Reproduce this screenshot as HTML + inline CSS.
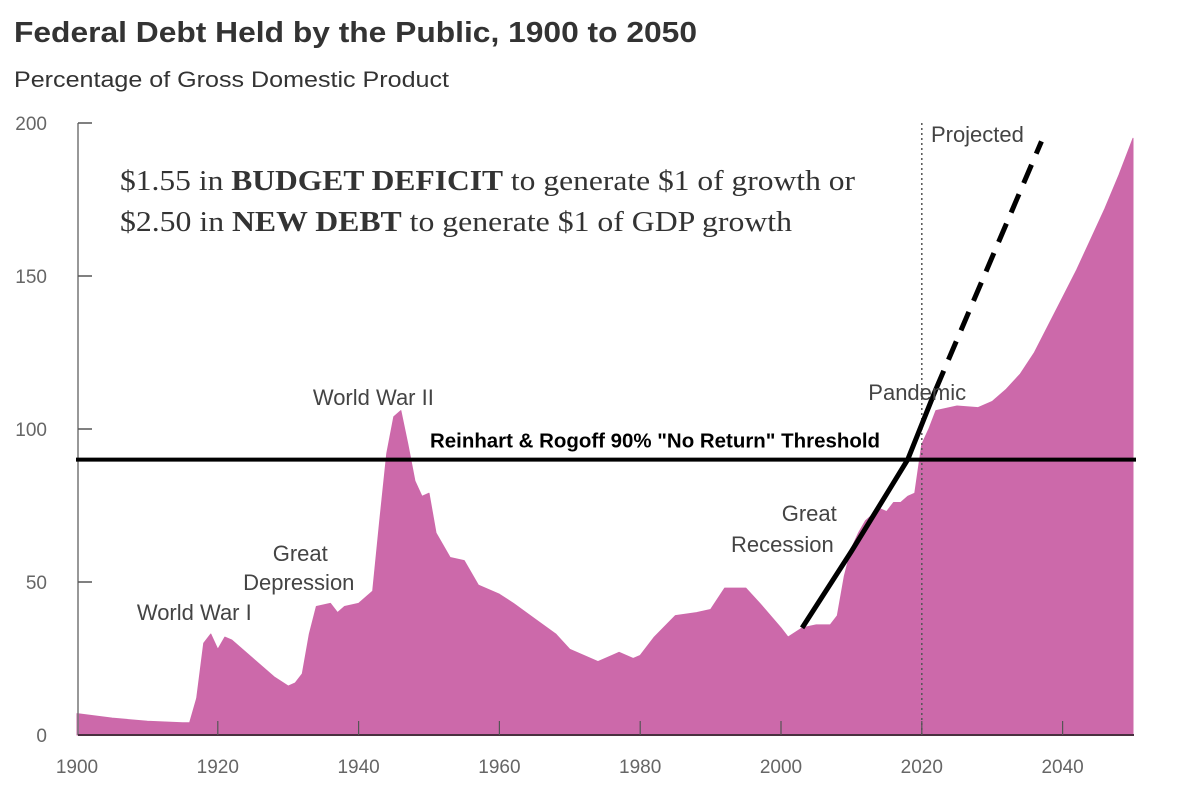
<!DOCTYPE html>
<html><head><meta charset="utf-8"><style>
body{margin:0;background:#fff;}
svg{display:block;font-family:"Liberation Sans",sans-serif;}
</style></head><body>
<svg id="chart" width="1186" height="789" viewBox="0 0 1186 789">
<text x="14" y="42" font-size="29" font-weight="bold" fill="#333" textLength="683" lengthAdjust="spacingAndGlyphs">Federal Debt Held by the Public, 1900 to 2050</text>
<text x="14" y="87" font-size="22" fill="#333" textLength="435" lengthAdjust="spacingAndGlyphs">Percentage of Gross Domestic Product</text>
<g id="area"></g>
<g id="yaxis"></g>
<g id="xaxis"></g>
<g id="ann"></g>
<text x="120" y="190" font-family="Liberation Serif,serif" font-size="28" fill="#333" textLength="735" lengthAdjust="spacingAndGlyphs">$1.55 in <tspan font-weight="bold">BUDGET DEFICIT</tspan> to generate $1 of growth or</text>
<text x="120" y="231" font-family="Liberation Serif,serif" font-size="28" fill="#333" textLength="672" lengthAdjust="spacingAndGlyphs">$2.50 in <tspan font-weight="bold">NEW DEBT</tspan> to generate $1 of GDP growth</text>
</svg>
<script>
const years=[1900,1905,1910,1915,1916,1917,1918,1919,1920,1921,1922,1925,1928,1930,1931,1932,1933,1934,1936,1937,1938,1940,1941,1942,1943,1944,1945,1946,1947,1948,1949,1950,1951,1953,1955,1957,1960,1962,1965,1968,1970,1974,1976,1977,1979,1980,1982,1985,1988,1990,1992,1995,1997,2000,2001,2003,2005,2007,2008,2009,2010,2011,2012,2013,2014,2015,2016,2017,2018,2019,2020,2021,2022,2025,2028,2030,2032,2034,2036,2038,2040,2042,2044,2046,2048,2050];
const debt=[7,5.5,4.5,4,4,12,30,33,28,32,31,25,19,16,17,20,33,42,43,40,42,43,45,47,70,92,104,106,95,83,78,79,66,58,57,49,46,43,38,33,28,24,26,27,25,26,32,39,40,41,48,48,43,35,32,35,36,36,39,52,61,66,70,72,74,73,76,76,78,79,95,100,106,107.5,107,109,113,118,125,134,143,152,162,172,183,195];
const yTicks=[0,50,100,150,200];
const xTicks=[1900,1920,1940,1960,1980,2000,2020,2040];
const threshold=[90];
const trendYears=[2003,2010,2018,2022];
const trendVals=[35,60,90,113];
const projYears=[2022,2037];
const projVals=[113,194];
const labels=[["World War I",1908.5,37.6],["Great",1927.8,56.9],["Depression",1923.6,47.4],["World War II",1933.5,107.8],["Great",2000.1,70],["Recession",1992.9,59.8],["Pandemic",2012.4,109.5],["Projected",2021.3,193.8]];
const X=y=>77+(y-1900)*7.04, Y=v=>735-v*3.06;
const NS="http://www.w3.org/2000/svg";
function mk(t,p,a){const e=document.createElementNS(NS,t);for(const k in a)e.setAttribute(k,a[k]);p.appendChild(e);return e;}
const area=document.getElementById('area');
let d=`M${X(years[0])},${Y(0)}`;years.forEach((y,i)=>d+=`L${X(y)},${Y(debt[i])}`);d+=`L${X(2050)},${Y(0)}Z`;
const ap=mk('path',area,{d:d,fill:'#cc69aa','stroke':'#cc69aa','stroke-width':1,'stroke-linejoin':'round'});


const ya=document.getElementById('yaxis');
mk('line',ya,{x1:78,y1:Y(200),x2:78,y2:Y(0),stroke:'#777','stroke-width':1.5});
yTicks.forEach(v=>{mk('line',ya,{x1:78,y1:Y(v),x2:92,y2:Y(v),stroke:'#555','stroke-width':1.5});
const t=mk('text',ya,{x:47,y:Y(v)+7,'text-anchor':'end','font-size':19,fill:'#666'});t.textContent=v;

});
const xa=document.getElementById('xaxis');
mk('line',xa,{x1:78,y1:Y(0),x2:1134,y2:Y(0),stroke:'#4a3040','stroke-width':2});
xTicks.forEach(y=>{if(y>1900)mk('line',xa,{x1:X(y),y1:Y(0),x2:X(y),y2:Y(0)-14,stroke:'#555','stroke-width':1.2});
const t=mk('text',xa,{x:X(y),y:773,'text-anchor':'middle','font-size':19,fill:'#666'});t.textContent=y;

});
const an=document.getElementById('ann');
mk('line',an,{x1:X(2020),y1:Y(200),x2:X(2020),y2:Y(0),stroke:'#555','stroke-width':1.5,'stroke-dasharray':'2,3'});
const th=mk('line',an,{x1:76,y1:Y(threshold[0]),x2:1136,y2:Y(threshold[0]),stroke:'#000','stroke-width':4});


const tt=mk('text',an,{x:430,y:Y(threshold[0])-12,'font-size':20,'font-weight':'bold',fill:'#000',textLength:450,lengthAdjust:'spacingAndGlyphs'});
tt.textContent='Reinhart & Rogoff 90% "No Return" Threshold';


let td='';trendYears.forEach((y,i)=>td+=(i?'L':'M')+X(y)+','+Y(trendVals[i]));
const tr=mk('path',an,{d:td,fill:'none',stroke:'#000','stroke-width':5,'stroke-linejoin':'round'});


const pr=mk('line',an,{x1:X(projYears[0]),y1:Y(projVals[0]),x2:X(projYears[1]),y2:Y(projVals[1]),stroke:'#000','stroke-width':5,'stroke-dasharray':'20,12'});


labels.forEach(l=>{const t=mk('text',an,{x:X(l[1]),y:Y(l[2]),'font-size':22,fill:'#444'});t.textContent=l[0];

});
</script>
</body></html>
